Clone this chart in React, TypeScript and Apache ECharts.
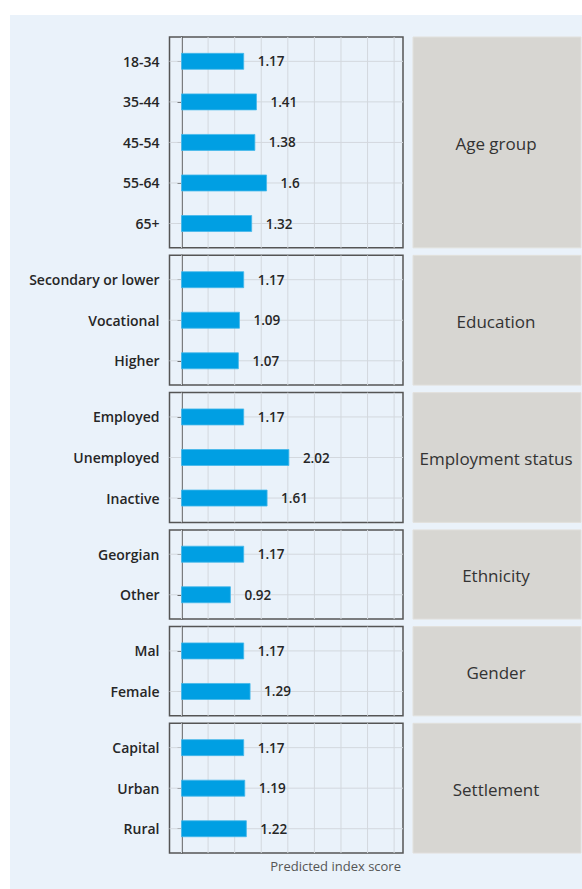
import React, { useEffect, useRef } from 'react';
import * as echarts from 'echarts';

// ---- Data ----
const facetTitles = ['Age group', 'Education', 'Employment status', 'Ethnicity', 'Gender', 'Settlement'];

const ageGroups = ['18-34', '35-44', '45-54', '55-64', '65+'];
const ageScores = [1.17, 1.41, 1.38, 1.6, 1.32];

const educationLevels = ['Secondary or lower', 'Vocational', 'Higher'];
const educationScores = [1.17, 1.09, 1.07];

const employmentStatuses = ['Employed', 'Unemployed', 'Inactive'];
const employmentScores = [1.17, 2.02, 1.61];

const ethnicities = ['Georgian', 'Other'];
const ethnicityScores = [1.17, 0.92];

const genders = ['Mal', 'Female'];
const genderScores = [1.17, 1.29];

const settlements = ['Capital', 'Urban', 'Rural'];
const settlementScores = [1.17, 1.19, 1.22];

const gridTicks = [0, 0.5, 1, 1.5, 2, 2.5, 3, 3.5, 4];
const axisTitle = 'Predicted index score';

const panels = [
  { title: facetTitles[0], cats: ageGroups, vals: ageScores },
  { title: facetTitles[1], cats: educationLevels, vals: educationScores },
  { title: facetTitles[2], cats: employmentStatuses, vals: employmentScores },
  { title: facetTitles[3], cats: ethnicities, vals: ethnicityScores },
  { title: facetTitles[4], cats: genders, vals: genderScores },
  { title: facetTitles[5], cats: settlements, vals: settlementScores },
];

// ---- Layout ----
const W = 582;
const H = 889;
const PANEL_LEFT = 169.5;
const PANEL_W = 233.5;
const UNIT = 40.55;
const GAP = 7.5;
const FIRST_TOP = 37;
const STRIP_LEFT = 413;
const STRIP_RIGHT = 581;
const X_MIN = -0.226;
const X_MAX = 4.167;
const BG = '#eaf2fa';
const BAR = '#009fe3';
const FONT = 'Open Sans';

export default function App() {
  const ref = useRef<HTMLDivElement>(null);

  useEffect(() => {
    if (!ref.current) return;
    const chart = echarts.init(ref.current, undefined, { renderer: 'svg' });

    const tops: number[] = [];
    const heights: number[] = [];
    let y = FIRST_TOP;
    panels.forEach((p) => {
      const h = (p.cats.length + 0.2) * UNIT;
      tops.push(y);
      heights.push(h);
      y += h + GAP;
    });

    const grid = panels.map((p, k) => ({
      left: PANEL_LEFT,
      top: tops[k],
      width: PANEL_W,
      height: heights[k],
      show: true,
      backgroundColor: 'transparent',
      borderColor: '#555555',
      borderWidth: 1.5,
      containLabel: false,
    }));

    const xAxis = panels.map((p, k) => ({
      type: 'value',
      gridIndex: k,
      min: X_MIN,
      max: X_MAX,
      axisLine: { show: false },
      axisTick: { show: false },
      axisLabel: { show: false },
      splitLine: { show: false },
    }));

    const yAxis = panels.map((p, k) => {
      const idx = p.cats.map((_, i) => i);
      return {
        type: 'value',
        gridIndex: k,
        inverse: true,
        min: -0.6,
        max: p.cats.length - 0.4,
        axisLine: { show: true, lineStyle: { color: '#555555', width: 1.5 } },
        axisTick: { show: true, length: 4, customValues: idx, lineStyle: { color: '#444444', width: 1 } },
        axisLabel: {
          show: true,
          customValues: idx,
          formatter: (v: number) => p.cats[Math.round(v)] ?? '',
          color: '#262626',
          fontFamily: FONT,
          fontSize: 14,
          fontWeight: 600,
          margin: 10,
        },
        splitLine: { show: false },
      };
    });

    const series: any[] = [];
    panels.forEach((p, k) => {
      // vertical grid lines
      series.push({
        type: 'custom',
        xAxisIndex: k,
        yAxisIndex: k,
        z: 1,
        silent: true,
        data: gridTicks.map((t) => [t, 0]),
        encode: { x: 0, y: 1 },
        renderItem: (params: any, api: any) => {
          const cs = params.coordSys;
          const x = api.coord([api.value(0), 0])[0];
          return {
            type: 'line',
            shape: { x1: x, y1: cs.y, x2: x, y2: cs.y + cs.height },
            style: { stroke: '#d3d8de', lineWidth: 1 },
          };
        },
      });
      // horizontal grid lines at categories
      series.push({
        type: 'custom',
        xAxisIndex: k,
        yAxisIndex: k,
        z: 1,
        silent: true,
        data: p.cats.map((_, i) => [0, i]),
        encode: { x: 0, y: 1 },
        renderItem: (params: any, api: any) => {
          const cs = params.coordSys;
          const yy = api.coord([0, api.value(1)])[1];
          return {
            type: 'line',
            shape: { x1: cs.x, y1: yy, x2: cs.x + cs.width, y2: yy },
            style: { stroke: '#d3d8de', lineWidth: 1 },
          };
        },
      });
      // bars with value labels
      series.push({
        type: 'custom',
        xAxisIndex: k,
        yAxisIndex: k,
        z: 3,
        data: p.vals.map((v, i) => [v, i]),
        encode: { x: 0, y: 1 },
        renderItem: (params: any, api: any) => {
          const v = api.value(0);
          const i = api.value(1);
          const s = api.coord([0, i]);
          const e = api.coord([v, i]);
          return {
            type: 'group',
            children: [
              {
                type: 'rect',
                shape: { x: s[0], y: s[1] - 8, width: e[0] - s[0], height: 16 },
                style: { fill: BAR, stroke: '#45b8ea', lineWidth: 0.8 },
              },
              {
                type: 'text',
                x: e[0] + 14,
                y: e[1],
                style: {
                  text: String(v),
                  fill: '#262626',
                  fontFamily: FONT,
                  fontSize: 13.5,
                  fontWeight: 600,
                  align: 'left',
                  verticalAlign: 'middle',
                },
              },
            ],
          };
        },
      });
    });

    const graphic: any[] = [
      {
        type: 'rect',
        z: -100,
        silent: true,
        shape: { x: 10, y: 15, width: W - 10, height: H - 15 },
        style: { fill: BG },
      },
    ];
    panels.forEach((p, k) => {
      graphic.push({
        type: 'rect',
        z: -50,
        silent: true,
        shape: { x: STRIP_LEFT, y: tops[k], width: STRIP_RIGHT - STRIP_LEFT, height: heights[k] },
        style: { fill: '#d7d6d2', stroke: '#e2e1dd', lineWidth: 1 },
      });
      graphic.push({
        type: 'text',
        z: -40,
        silent: true,
        x: (STRIP_LEFT + STRIP_RIGHT) / 2 - 1,
        y: tops[k] + heights[k] / 2 + 1,
        style: {
          text: p.title,
          fill: '#333333',
          fontFamily: FONT,
          fontSize: 17,
          align: 'center',
          verticalAlign: 'middle',
        },
      });
    });
    graphic.push({
      type: 'text',
      silent: true,
      x: PANEL_LEFT + PANEL_W - 2,
      y: y - GAP + 13,
      style: {
        text: axisTitle,
        fill: '#555555',
        fontFamily: FONT,
        fontSize: 13,
        align: 'right',
        verticalAlign: 'middle',
      },
    });

    chart.setOption({
      animation: false,
      backgroundColor: '#ffffff',
      grid,
      xAxis,
      yAxis,
      series,
      graphic,
    });

    return () => chart.dispose();
  }, []);

  return (
    <div
      ref={ref}
      style={{ position: 'absolute', left: 0, top: 0, width: W, height: H }}
    />
  );
}
